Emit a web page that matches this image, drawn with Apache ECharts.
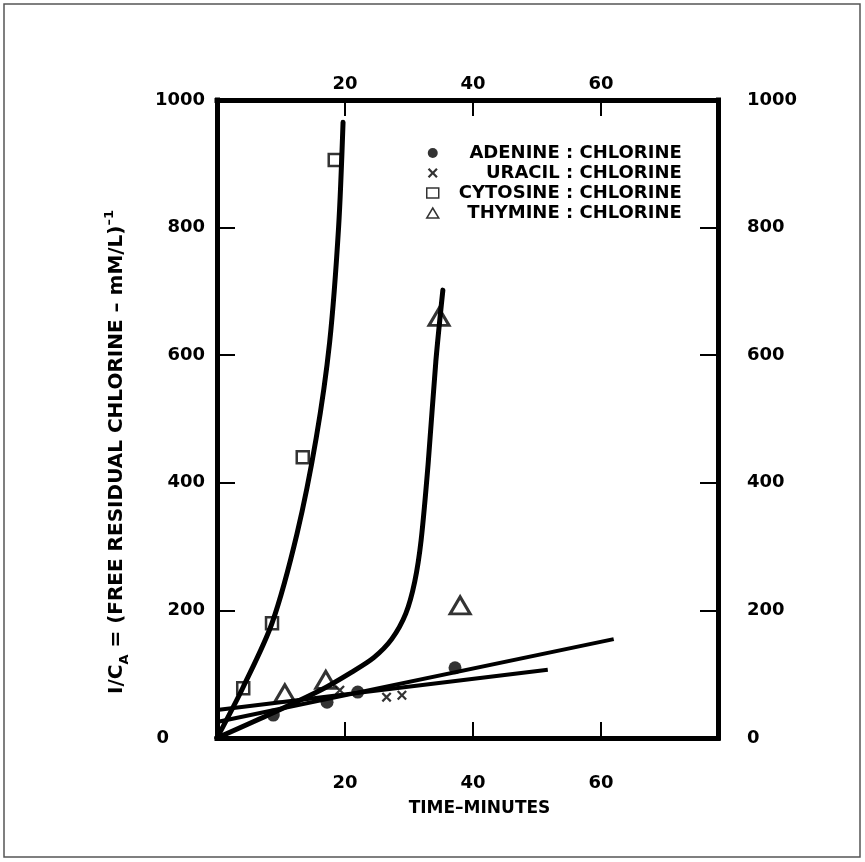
<!DOCTYPE html>
<html><head><meta charset="utf-8">
<script src="https://cdn.jsdelivr.net/npm/echarts@6/dist/echarts.min.js"></script>
<style>html,body{margin:0;padding:0;background:#fff}#c{width:865px;height:862px}</style>
</head><body><div id="c"></div>
<script>
// ---- data ----
const X_TICK_STEP = 20;
const Y_TICK_STEP = 200;
const SERIES_NAMES = ['ADENINE : CHLORINE', 'URACIL : CHLORINE', 'CYTOSINE : CHLORINE', 'THYMINE : CHLORINE'];

const ADENINE_X = [8.8, 17.2, 22.0, 37.2];
const ADENINE_Y = [36, 56, 72, 110];
const URACIL_X = [19.2, 26.5, 28.9];
const URACIL_Y = [75, 64, 67];
const CYTOSINE_X = [4.1, 8.6, 13.4, 18.4];
const CYTOSINE_Y = [78, 180, 440, 906];
const THYMINE_X = [10.6, 17.0, 34.7, 38.0];
const THYMINE_Y = [70, 91, 660, 208];

const ADENINE_FIT_X = [0, 62];
const ADENINE_FIT_Y = [25, 155];
const URACIL_FIT_X = [0, 51.7];
const URACIL_FIT_Y = [44, 107];
const CYTOSINE_CURVE_X = [0, 4.1, 8.6, 12.5, 15.5, 17.6, 19.0, 19.7];
const CYTOSINE_CURVE_Y = [0, 80, 180, 320, 470, 620, 800, 965];
const THYMINE_CURVE_X = [0, 8, 16, 21, 24.5, 27.3, 29.5, 30.9, 31.9, 33.0, 34.2, 35.3];
const THYMINE_CURVE_Y = [0, 36, 74, 103, 126, 155, 195, 245, 310, 430, 590, 702];

const zip = (xs, ys) => xs.map((x, i) => [x, ys[i]]);

const FONT = 'DejaVu Sans';

const numLabel = (margin, extra) => Object.assign({
  color: '#000', fontFamily: FONT, fontWeight: 'bold', fontSize: 18, margin: margin
}, extra || {});

function xAxisCfg(pos, margin, named) {
  const a = {
    type: 'value', position: pos, min: 0, max: 78.3, interval: X_TICK_STEP,
    axisLine: { show: true, onZero: false, lineStyle: { color: '#000', width: 5, cap: 'square' } },
    axisTick: { show: true, inside: true, length: 16, lineStyle: { color: '#000', width: 2 } },
    axisLabel: numLabel(margin, { formatter: v => (v === 0 || v % X_TICK_STEP !== 0) ? '' : String(v) }),
    splitLine: { show: false }
  };
  if (named) {
    a.name = 'TIME\u2013MINUTES';
    a.nameLocation = 'middle';
    a.nameGap = 62;
    a.nameTextStyle = { color: '#000', fontFamily: FONT, fontWeight: 'bold', fontSize: 17, padding: [0, 0, 0, 24] };
  }
  return a;
}

function yAxisCfg(pos, margin, named) {
  const a = {
    type: 'value', position: pos, min: 0, max: 1000, interval: Y_TICK_STEP,
    axisLine: { show: true, onZero: false, lineStyle: { color: '#000', width: 5, cap: 'square' } },
    axisTick: { show: true, inside: true, length: 18, lineStyle: { color: '#000', width: 2 } },
    axisLabel: numLabel(margin, pos === 'left'
      ? { formatter: v => v === 0 ? '{z|0}' : String(v), rich: { z: { fontFamily: FONT, fontWeight: 'bold', fontSize: 18, color: '#000', padding: [0, 36, 0, 0] } } }
      : { formatter: v => String(v) }),
    splitLine: { show: false }
  };
  if (named) {
    a.name = '{t|I/C}{s|A}{t| = (FREE RESIDUAL CHLORINE \u2013 mM/L)}{p|\u20131}';
    a.nameLocation = 'middle';
    a.nameRotate = 90;
    a.nameGap = 86;
    a.nameTextStyle = {
      padding: [0, 66, 0, 0],
      rich: {
        t: { fontFamily: FONT, fontWeight: 'bold', fontSize: 20, color: '#000', lineHeight: 28 },
        s: { fontFamily: FONT, fontWeight: 'bold', fontSize: 13, color: '#000', lineHeight: 13, verticalAlign: 'bottom' },
        p: { fontFamily: FONT, fontWeight: 'bold', fontSize: 13, color: '#000', lineHeight: 13, verticalAlign: 'top' }
      }
    };
  }
  return a;
}

const X_SHAPE = 'path://M0,1.6 L1.6,0 L5,3.4 L8.4,0 L10,1.6 L6.6,5 L10,8.4 L8.4,10 L5,6.6 L1.6,10 L0,8.4 L3.4,5 Z';

const markerSeries = [
  { name: SERIES_NAMES[0], type: 'scatter', data: zip(ADENINE_X, ADENINE_Y), symbol: 'circle', symbolSize: 13,
    itemStyle: { color: '#000' }, z: 3 },
  { name: SERIES_NAMES[1], type: 'scatter', data: zip(URACIL_X, URACIL_Y), symbol: X_SHAPE, symbolSize: 10,
    itemStyle: { color: '#000' }, z: 3 },
  { name: SERIES_NAMES[2], type: 'scatter', data: zip(CYTOSINE_X, CYTOSINE_Y), symbol: 'rect', symbolSize: 12,
    itemStyle: { color: '#fff', borderColor: '#000', borderWidth: 2.5 }, z: 3 },
  { name: SERIES_NAMES[3], type: 'scatter', data: zip(THYMINE_X, THYMINE_Y), symbol: 'triangle', symbolSize: [20, 17],
    itemStyle: { color: '#fff', borderColor: '#000', borderWidth: 3 }, z: 3 }
];

const lineBase = { type: 'line', showSymbol: false, silent: true, z: 4 };
const lineSeries = [
  Object.assign({ name: 'adenine fit', data: zip(ADENINE_FIT_X, ADENINE_FIT_Y), lineStyle: { color: '#000', width: 4 } }, lineBase),
  Object.assign({ name: 'uracil fit', data: zip(URACIL_FIT_X, URACIL_FIT_Y), lineStyle: { color: '#000', width: 4 } }, lineBase),
  Object.assign({ name: 'cytosine curve', data: zip(CYTOSINE_CURVE_X, CYTOSINE_CURVE_Y), smooth: 0.3,
    lineStyle: { color: '#000', width: 5, cap: 'round' } }, lineBase),
  Object.assign({ name: 'thymine curve', data: zip(THYMINE_CURVE_X, THYMINE_CURVE_Y), smooth: 0.3,
    lineStyle: { color: '#000', width: 5, cap: 'round' } }, lineBase)
];

const chart = echarts.init(document.getElementById('c'), null, { renderer: 'canvas' });
chart.setOption({
  animation: false,
  backgroundColor: '#fff',
  grid: { left: 217, right: 147, top: 100, bottom: 124, outerBoundsMode: 'none' },
  xAxis: [xAxisCfg('bottom', 36, true), xAxisCfg('top', 7, false)],
  yAxis: [yAxisCfg('left', 12, true), yAxisCfg('right', 29, false)],
  legend: {
    orient: 'vertical', left: 421, top: 139, itemWidth: 12, itemHeight: 10, itemGap: 2,
    selectedMode: false,
    data: [
      { name: SERIES_NAMES[0] },
      { name: SERIES_NAMES[1] },
      { name: SERIES_NAMES[2], itemStyle: { borderWidth: 1.5 } },
      { name: SERIES_NAMES[3], itemStyle: { borderWidth: 1.5 } }
    ],
    formatter: n => '{a|' + n + '}',
    textStyle: { rich: { a: { width: 238, align: 'right', fontFamily: FONT, fontWeight: 'bold', fontSize: 18, color: '#000' } } }
  },
  graphic: [{
    type: 'rect', silent: true, z: -1,
    shape: { x: 4, y: 4, width: 856, height: 853 },
    style: { fill: 'none', stroke: '#555', lineWidth: 1.5 }
  }],
  series: markerSeries.concat(lineSeries)
});
</script>
</body></html>
